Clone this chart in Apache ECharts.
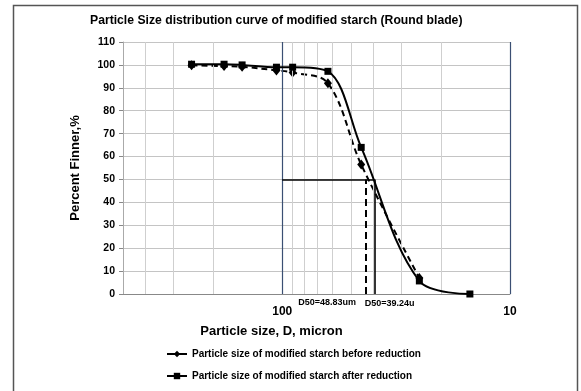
<!DOCTYPE html>
<html>
<head>
<meta charset="utf-8">
<script src="https://cdn.jsdelivr.net/npm/echarts@6/dist/echarts.min.js"></script>
<style>
  html, body { margin: 0; padding: 0; background: #fff; }
  #chart { width: 581px; height: 391px; }
</style>
</head>
<body>
<div id="chart"></div>
<script>
// sieve sizes (micron) and percent finer
const sizesBefore = [250, 180, 150, 106, 90, 63, 45, 25];
const finerBefore = [99.8, 99.5, 99.2, 97.6, 96.7, 92, 56.5, 7];
const sizesAfter = [250, 180, 150, 106, 90, 63, 45, 25, 15];
const finerAfter = [100.3, 100.3, 100, 99, 99, 97.2, 64, 5.7, 0];

// D50 reference lines
const d50Before = 43;
const d50After = 39.24;
const d50Labels = ["D50=48.83um", "D50=39.24u"];
const d50LabelAt = [63.5, 33.8];

// x axis grid (log) and label ticks
const gridX = [400, 300, 200, 90, 80, 70, 60, 50, 40, 30, 20];
const axisX = [100, 10];
const xLabels = [100, 10];

const chart = echarts.init(document.getElementById("chart"));
const pairs = (xs, ys) => xs.map((x, i) => [x, ys[i]]);
const font = "'Liberation Sans', Arial, sans-serif";

chart.setOption({
  animation: false,
  textStyle: { fontFamily: font },
  title: {
    text: "Particle Size distribution curve of modified starch (Round blade)",
    left: 85,
    top: 10,
    textStyle: { fontSize: 12.2, fontWeight: "bold", color: "#000", fontFamily: font }
  },
  graphic: [
    {
      type: "rect",
      shape: { x: 13.5, y: 5.5, width: 564, height: 400 },
      style: { fill: "none", stroke: "#555", lineWidth: 1.5 },
      silent: true
    }
  ],
  legend: {
    orient: "vertical",
    left: 166,
    top: 349,
    padding: 0,
    itemGap: 12,
    itemWidth: 20,
    itemHeight: 8,
    data: [
      "Particle size of modified starch before reduction",
      "Particle size of modified starch after reduction"
    ],
    lineStyle: { type: "solid", width: 2 },
    textStyle: { fontSize: 10, fontWeight: "bold", color: "#000", fontFamily: font }
  },
  grid: { left: 123, right: 71, top: 42, bottom: 97 },
  xAxis: {
    type: "log",
    logBase: 10,
    min: 10,
    max: 500,
    inverse: true,
    name: "Particle size, D, micron",
    nameLocation: "middle",
    nameGap: 31,
    nameTextStyle: { fontSize: 13, fontWeight: "bold", color: "#000", padding: [0, 90, 0, 0] },
    axisLine: { lineStyle: { color: "#888", width: 1 } },
    axisTick: { show: false },
    splitLine: { show: false },
    axisLabel: {
      color: "#000",
      fontSize: 12,
      fontWeight: "bold",
      margin: 12,
      showMinLabel: true,
      showMaxLabel: true,
      formatter: (v) => (xLabels.some((t) => Math.abs(t - v) < 1e-6) ? String(Math.round(v)) : "")
    }
  },
  yAxis: {
    type: "value",
    min: 0,
    max: 110,
    interval: 10,
    name: "Percent Finner,%",
    nameLocation: "middle",
    nameGap: 41,
    nameTextStyle: { fontSize: 13, fontWeight: "bold", color: "#000" },
    axisLine: { show: true, lineStyle: { color: "#aaa" } },
    axisTick: { show: true, length: 4, lineStyle: { color: "#888" } },
    axisLabel: { color: "#000", fontSize: 10.5, fontWeight: "bold", margin: 8 },
    splitLine: { lineStyle: { color: "#c4c4c4", width: 1 } }
  },
  series: [
    {
      name: "grid",
      type: "line",
      data: [],
      silent: true,
      z: 1,
      markLine: {
        silent: true,
        symbol: "none",
        label: { show: false },
        animation: false,
        lineStyle: { color: "#cfcfcf", type: "solid", width: 1 },
        data: gridX.map((v) => ({ xAxis: v }))
      }
    },
    {
      name: "axes",
      type: "line",
      data: [],
      silent: true,
      z: 2,
      markLine: {
        silent: true,
        symbol: "none",
        label: { show: false },
        animation: false,
        lineStyle: { color: "#3b4f73", type: "solid", width: 1.2 },
        data: axisX.map((v) => ({ xAxis: v }))
      }
    },
    {
      name: "Particle size of modified starch before reduction",
      type: "line",
      data: pairs(sizesBefore, finerBefore),
      smooth: 0.35,
      symbol: "diamond",
      symbolSize: [8, 10],
      z: 4,
      itemStyle: { color: "#000" },
      lineStyle: { color: "#000", width: 2, type: [6, 4] },
      markLine: {
        silent: true,
        symbol: "none",
        label: { show: false },
        animation: false,
        lineStyle: { color: "#000", width: 2, type: [7, 4] },
        data: [[{ coord: [d50Before, 0] }, { coord: [d50Before, 50] }]]
      },
      markPoint: {
        symbolSize: 0,
        data: [
          {
            coord: [d50LabelAt[0], 0],
            label: { show: true, formatter: d50Labels[0], offset: [0, 9], fontSize: 9, fontWeight: "bold", color: "#000" }
          }
        ]
      }
    },
    {
      name: "Particle size of modified starch after reduction",
      type: "line",
      data: pairs(sizesAfter, finerAfter),
      smooth: 0.35,
      symbol: "rect",
      symbolSize: 7,
      z: 5,
      itemStyle: { color: "#000" },
      lineStyle: { color: "#000", width: 2 },
      markLine: {
        silent: true,
        symbol: "none",
        label: { show: false },
        animation: false,
        lineStyle: { color: "#000", width: 1.6, type: "solid" },
        data: [
          [{ coord: [100, 50] }, { coord: [d50After, 50] }],
          [{ coord: [d50After, 0] }, { coord: [d50After, 50] }]
        ]
      },
      markPoint: {
        symbolSize: 0,
        data: [
          {
            coord: [d50LabelAt[1], 0],
            label: { show: true, formatter: d50Labels[1], offset: [0, 10], fontSize: 9, fontWeight: "bold", color: "#000" }
          }
        ]
      }
    }
  ]
});
</script>
</body>
</html>
